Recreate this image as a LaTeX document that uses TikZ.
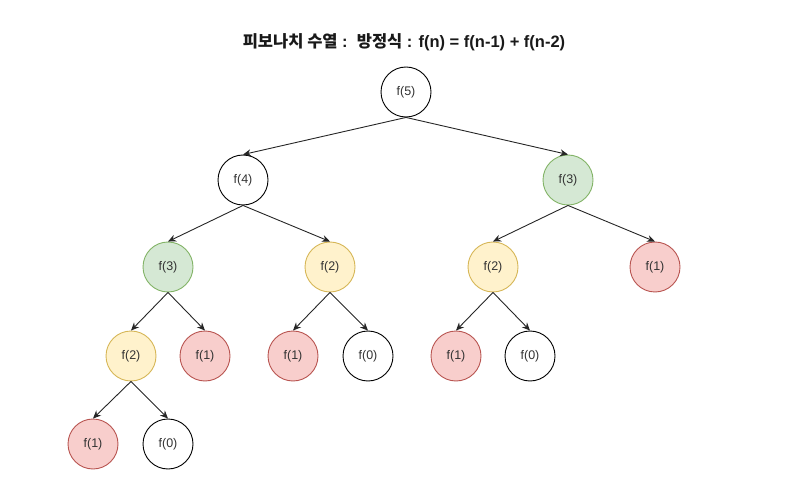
\documentclass[tikz,border=0pt]{standalone}
\usepackage{fontspec}
\setmainfont{Liberation Sans}
\newfontfamily\kr{Noto Sans CJK KR}
\usetikzlibrary{arrows.meta}
\definecolor{gfill}{HTML}{D5E8D4}\definecolor{gline}{HTML}{82B366}
\definecolor{yfill}{HTML}{FFF2CC}\definecolor{yline}{HTML}{D6B656}
\definecolor{rfill}{HTML}{F8CECC}\definecolor{rline}{HTML}{B85450}
\definecolor{txt}{HTML}{333333}
\tikzset{
  fnode/.style={circle, draw=black, fill=white, line width=0.9pt, minimum size=50pt, inner sep=0pt, font=\fontsize{12.5}{14}\selectfont, text=txt},
  gnode/.style={fnode, draw=gline, fill=gfill},
  ynode/.style={fnode, draw=yline, fill=yfill},
  rnode/.style={fnode, draw=rline, fill=rfill},
  edge/.style={draw=black!85, line width=0.9pt, -{Stealth[length=8pt,width=7pt]}}
}
\begin{document}
\begin{tikzpicture}[x=1pt,y=-1pt]
\useasboundingbox (0,0) rectangle (792,486);
\node[font=\bfseries\fontsize{16.5}{19}\selectfont, text=black!90] (title) at (404,42) {{\kr 피보나치 수열} :\ \ {\kr 방정식} : f(n) = f(n-1) + f(n-2)};
\node[fnode] (n5) at (406,92) {f(5)};
\node[fnode] (n4) at (243,180) {f(4)};
\node[gnode] (n3r) at (568,180) {f(3)};
\node[gnode] (n3l) at (168,267) {f(3)};
\node[ynode] (n2m) at (330,267) {f(2)};
\node[ynode] (n2r) at (493,267) {f(2)};
\node[rnode] (n1r) at (655,267) {f(1)};
\node[ynode] (n2l) at (131,356) {f(2)};
\node[rnode] (n1a) at (205,356) {f(1)};
\node[rnode] (n1b) at (293,356) {f(1)};
\node[fnode] (n0b) at (368,356) {f(0)};
\node[rnode] (n1c) at (456,356) {f(1)};
\node[fnode] (n0c) at (530,356) {f(0)};
\node[rnode] (n1d) at (93,444) {f(1)};
\node[fnode] (n0d) at (168,444) {f(0)};
\draw[edge] (n5.south) -- (n4.north);
\draw[edge] (n5.south) -- (n3r.north);
\draw[edge] (n4.south) -- (n3l.north);
\draw[edge] (n4.south) -- (n2m.north);
\draw[edge] (n3r.south) -- (n2r.north);
\draw[edge] (n3r.south) -- (n1r.north);
\draw[edge] (n3l.south) -- (n2l.north);
\draw[edge] (n3l.south) -- (n1a.north);
\draw[edge] (n2m.south) -- (n1b.north);
\draw[edge] (n2m.south) -- (n0b.north);
\draw[edge] (n2r.south) -- (n1c.north);
\draw[edge] (n2r.south) -- (n0c.north);
\draw[edge] (n2l.south) -- (n1d.north);
\draw[edge] (n2l.south) -- (n0d.north);
\end{tikzpicture}
\end{document}
